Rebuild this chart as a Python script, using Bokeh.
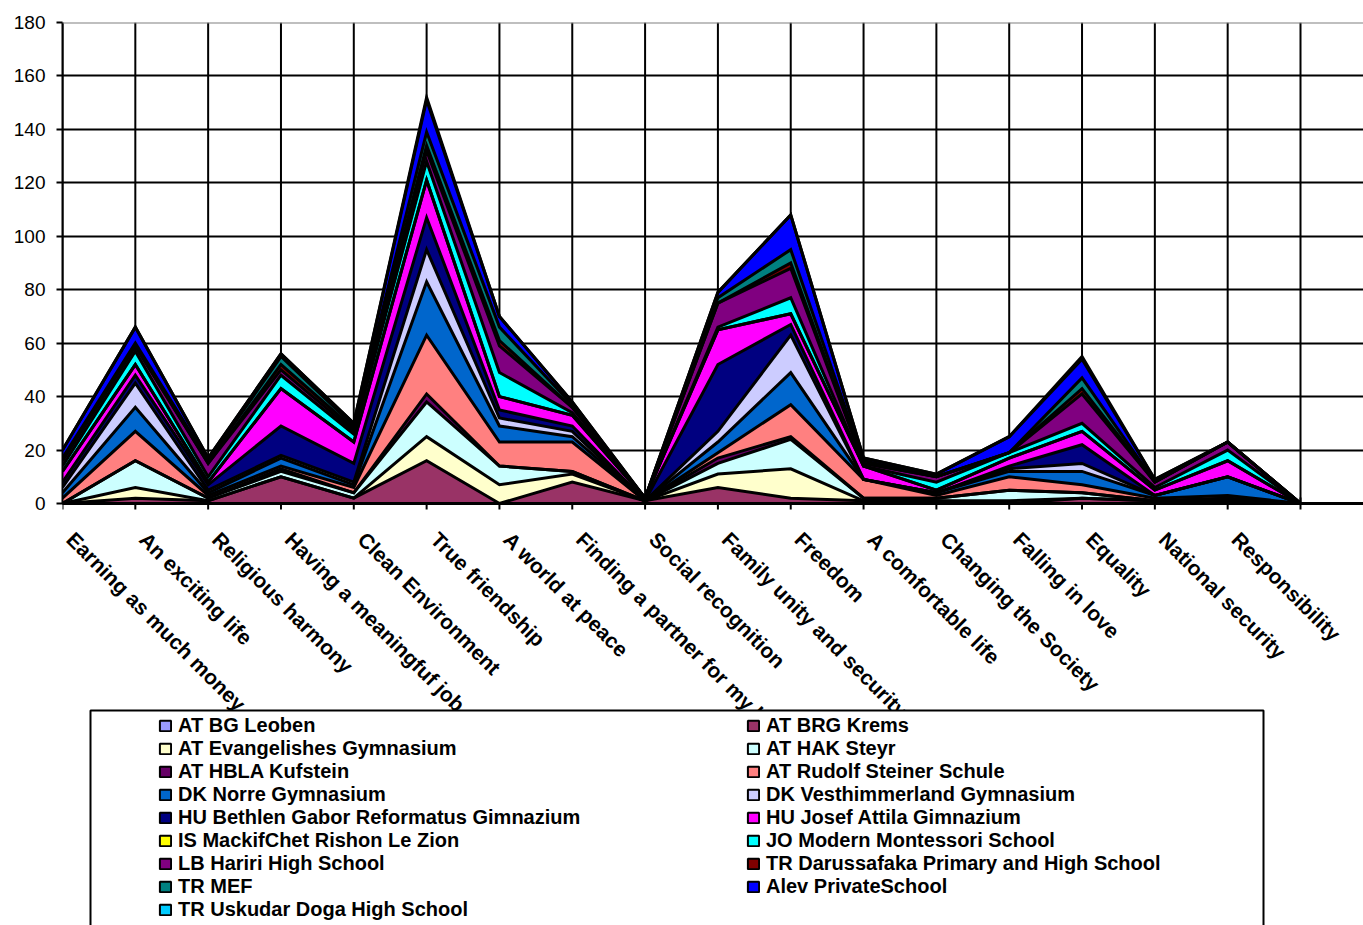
import numpy as np
from math import pi
from bokeh.plotting import figure
from bokeh.models import (Range1d, FixedTicker, Legend, LegendItem, Span,
                          ColumnDataSource, BoxAnnotation)
from bokeh.core.properties import value
from bokeh.embed import file_html
from bokeh.resources import INLINE

categories = ["Earning as much money", "An exciting life", "Religious harmony",
              "Having a meaningfuf job", "Clean Environment", "True friendship",
              "A world at peace", "Finding a partner for my life", "Social recognition",
              "Family unity and security", "Freedom", "A comfortable life",
              "Changing the Society", "Falling in love", "Equality",
              "National security", "Responsibility", ""]

series_names = ["AT BG Leoben", "AT BRG Krems", "AT Evangelishes Gymnasium",
                "AT HAK Steyr", "AT HBLA Kufstein", "AT Rudolf Steiner Schule",
                "DK Norre Gymnasium", "DK Vesthimmerland Gymnasium",
                "HU Bethlen Gabor Reformatus Gimnazium", "HU Josef Attila Gimnazium",
                "IS MackifChet Rishon Le Zion", "JO Modern Montessori School",
                "LB Hariri High School", "TR Darussafaka Primary and High School",
                "TR MEF", "Alev PrivateSchool", "TR Uskudar Doga High School"]

series_colors = ["#9999FF", "#993366", "#FFFFCC", "#CCFFFF", "#660066", "#FF8080",
                 "#0066CC", "#CCCCFF", "#000080", "#FF00FF", "#FFFF00", "#00FFFF",
                 "#800080", "#800000", "#008080", "#0000FF", "#00CCFF"]

at_bg_leoben    = [0, 0, 0, 0, 0, 0, 0, 0, 0, 0, 0, 0, 0, 0, 0, 0, 0, 0]
at_brg_krems    = [0, 2, 1, 10, 2, 16, 0, 8, 1, 6, 2, 1, 1, 0, 2, 1, 1, 0]
at_evangelishes = [0, 4, 0, 0, 0, 9, 7, 3, 0, 5, 11, 0, 0, 1, 0, 0, 0, 0]
at_hak_steyr    = [0, 10, 1, 2, 2, 13, 7, 1, 0, 4, 11, 1, 1, 4, 2, 0, 1, 0]
at_hbla         = [0, 0, 0, 1, 0, 3, 0, 0, 0, 2, 1, 0, 0, 0, 0, 0, 0, 0]
at_rudolf       = [2, 11, 1, 1, 2, 22, 9, 11, 0, 2, 12, 7, 1, 5, 3, 1, 1, 0]
dk_norre        = [2, 9, 1, 3, 1, 20, 6, 2, 0, 4, 12, 0, 1, 2, 5, 1, 7, 0]
dk_vesthimmer   = [2, 9, 1, 1, 1, 12, 3, 2, 0, 4, 14, 0, 0, 1, 3, 0, 0, 0]
hu_bethlen      = [2, 3, 2, 11, 7, 12, 3, 2, 0, 25, 4, 0, 0, 1, 7, 0, 0, 0]
hu_josef        = [4, 4, 1, 14, 8, 14, 5, 4, 1, 13, 4, 5, 1, 3, 5, 2, 6, 0]
is_mackifchet   = [0, 0, 0, 0, 0, 0, 0, 0, 0, 0, 0, 0, 0, 0, 0, 0, 0, 0]
jo_montessori   = [2, 5, 2, 5, 3, 7, 9, 1, 0, 1, 6, 0, 3, 2, 3, 1, 4, 0]
lb_hariri       = [2, 2, 5, 2, 1, 4, 10, 2, 0, 9, 11, 1, 2, 0, 11, 2, 3, 0]
tr_darussafaka  = [0, 0, 0, 2, 1, 2, 2, 0, 0, 0, 2, 0, 0, 0, 2, 0, 0, 0]
tr_mef          = [1, 1, 1, 3, 1, 5, 5, 1, 0, 2, 5, 1, 0, 0, 4, 0, 0, 0]
alev_private    = [3, 6, 1, 1, 1, 12, 4, 1, 0, 2, 13, 1, 1, 6, 7, 1, 0, 0]
tr_uskudar      = [0, 0, 0, 0, 0, 1, 0, 0, 0, 0, 0, 0, 0, 0, 1, 0, 0, 0]

series_values = [at_bg_leoben, at_brg_krems, at_evangelishes, at_hak_steyr, at_hbla,
                 at_rudolf, dk_norre, dk_vesthimmer, hu_bethlen, hu_josef,
                 is_mackifchet, jo_montessori, lb_hariri, tr_darussafaka, tr_mef,
                 alev_private, tr_uskudar]

y_ticks = list(range(0, 181, 20))

FONT = "Liberation Sans"
W, H = 1363, 925
LEFT, TOP, AXIS_Y = 62, 22, 503          # pixel positions of the plot area
PX_PER_Y = (AXIS_Y - TOP) / 180.0
X_STEP = (1300 - LEFT) / 17.0
y_min = -(H - AXIS_Y) / PX_PER_Y
x_max = (W - LEFT) / X_STEP

xs = list(range(len(categories)))

p = figure(width=W, height=H, output_backend="svg", toolbar_location=None,
           x_range=Range1d(0, x_max), y_range=Range1d(y_min, 180),
           x_axis_location=None,
           min_border_left=LEFT, min_border_right=0, min_border_top=TOP,
           min_border_bottom=0, outline_line_color=None,
           background_fill_color="white", border_fill_color="white")

cat_src = ColumnDataSource(dict(x=xs, base=[0] * len(xs), top=[y_ticks[-1]] * len(xs),
                                label=categories))

# vertical grid lines (only across the value area) and tick marks
p.segment(x0="x", y0="base", x1="x", y1="top", source=cat_src,
          line_color="black", line_width=2, level="underlay")
p.scatter(x="x", y="base", source=cat_src, marker="dash", angle=pi / 2, size=12,
          line_color="black", line_width=2)

cum = np.zeros(len(categories))
sources = []
for vals, col in zip(series_values, series_colors):
    new = cum + np.array(vals, dtype=float)
    src = ColumnDataSource(dict(x=xs, y1=cum.copy(), y2=new))
    p.varea(x="x", y1="y1", y2="y2", source=src, fill_color=col)
    sources.append(src)
    cum = new
for src in sources:
    p.line(x="x", y="y2", source=src, line_color="black", line_width=3,
           line_join="miter")

# renderers used only for the legend swatches (hidden in the plot)
swatches = []
for src, col in zip(sources, series_colors):
    r = p.quad(left="x", right="x", bottom="y1", top="y2", source=src,
               fill_color=col, line_color="black", line_width=2)
    r.visible = False
    swatches.append(r)

# x axis line and category labels
p.add_layout(Span(location=0, dimension="width", line_color="black", line_width=3))
p.text(x="x", y="base", text="label", source=cat_src, angle=-pi / 4,
       text_align="left", text_baseline="top", x_offset=16, y_offset=24,
       text_font=value(FONT), text_font_style="bold", text_font_size="21px",
       text_color="black")

p.yaxis.ticker = FixedTicker(ticks=y_ticks)
p.yaxis.bounds = (0, 180)
p.yaxis.major_label_text_font = FONT
p.yaxis.major_label_text_font_size = "19px"
p.yaxis.major_label_text_color = "black"
p.yaxis.major_label_standoff = 11
p.yaxis.minor_tick_line_color = None
p.yaxis.major_tick_out = 6
p.yaxis.major_tick_in = 0
p.yaxis.major_tick_line_width = 2
p.yaxis.axis_line_width = 2
p.yaxis.axis_line_color = "black"

p.xgrid.visible = False
p.ygrid.ticker = FixedTicker(ticks=y_ticks)
p.ygrid.grid_line_color = "black"
p.ygrid.grid_line_width = 2
p.add_layout(Span(location=180, dimension="width", line_color="#808080", line_width=2))

# legend box (covers the lower part of the long category labels)
box = BoxAnnotation(left=(90 - LEFT) / X_STEP, right=(1263 - LEFT) / X_STEP,
                    top=(AXIS_Y - 710) / PX_PER_Y, bottom=y_min - 20,
                    fill_color="white", fill_alpha=1.0,
                    line_color="black", line_width=2, line_alpha=1.0)
p.add_layout(box)

items = [LegendItem(label=n, renderers=[r]) for n, r in zip(series_names, swatches)]
left_items = items[0::2]
right_items = items[1::2]

ROW_H = 23
FIRST_ROW_CENTER = 725

def make_legend(its, glyph_x):
    h = len(its) * ROW_H
    top = FIRST_ROW_CENTER - ROW_H / 2
    vy = H - top - h
    lg = Legend(items=its, location=(glyph_x - LEFT, vy), padding=0, spacing=0,
                glyph_width=14, glyph_height=13, label_standoff=6,
                label_height=ROW_H, border_line_color=None,
                background_fill_alpha=0, label_text_font=FONT,
                label_text_font_style="bold", label_text_font_size="20px",
                label_text_color="black", inactive_fill_alpha=0, margin=0)
    return lg

p.add_layout(make_legend(left_items, 158))
p.add_layout(make_legend(right_items, 746))

open("out.html", "w").write(file_html(p, INLINE))
